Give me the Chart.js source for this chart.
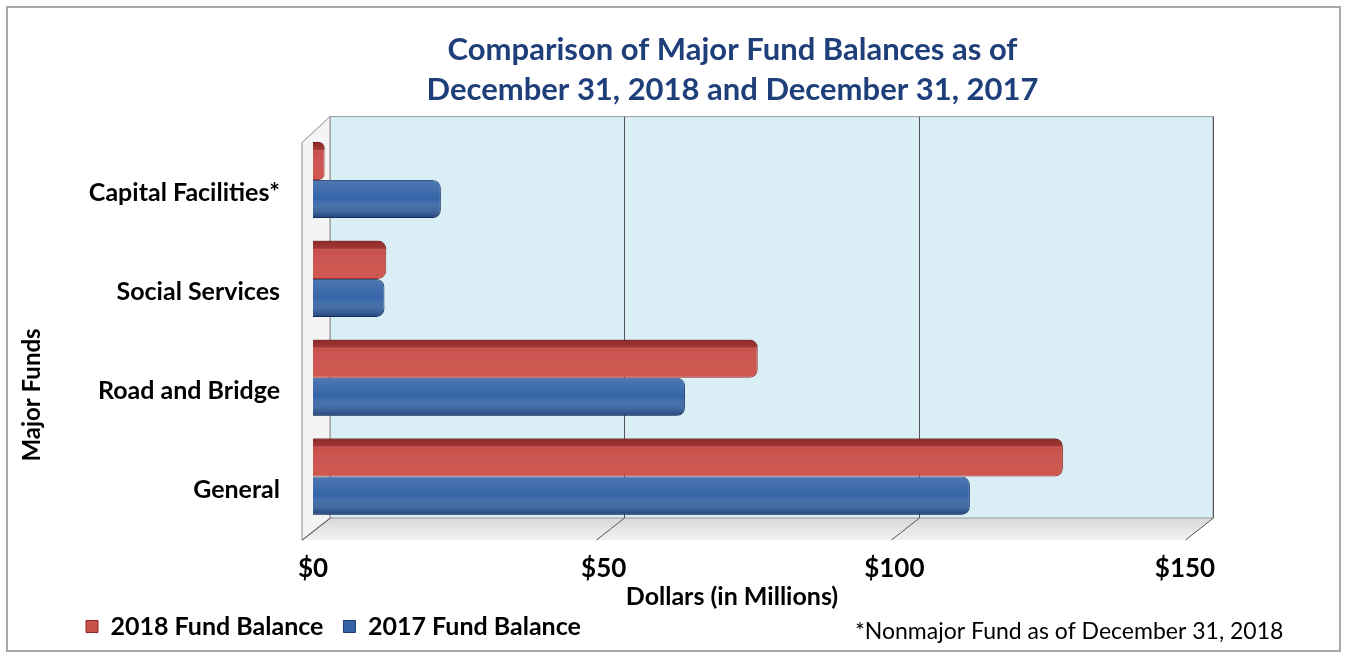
<!DOCTYPE html>
<html>
<head>
<meta charset="utf-8">
<script src="https://cdn.jsdelivr.net/npm/chart.js@4"></script>
<style>
  html, body { margin: 0; padding: 0; background: #fff; }
  #wrap { position: relative; width: 1348px; height: 658px; }
</style>
</head>
<body>
<div id="wrap"><canvas id="fundChart" width="1348" height="658"></canvas></div>
<script>
const funds = ['Capital Facilities*', 'Social Services', 'Road and Bridge', 'General'];
const balance2018 = [2, 12.6, 76.5, 129];
const balance2017 = [22, 12.3, 64, 113];
const dollarTicks = [0, 50, 100, 150];

const FONT = 'Lato, "Open Sans", sans-serif';

// back wall, floor and side wall of the 3-D plot box
const boxPlugin = {
    id: 'box3d',
    beforeDraw(chart) {
        const ctx = chart.ctx;
        ctx.save();
        ctx.fillStyle = '#fff';
        ctx.fillRect(0, 0, chart.width, chart.height);
        ctx.strokeStyle = '#a8a8a8';
        ctx.lineWidth = 2;
        ctx.strokeRect(7, 7, 1333, 644);
        ctx.restore();
    },
    beforeDatasetsDraw(chart) {
        const ctx = chart.ctx;
        const ca = chart.chartArea;
        const xs = chart.scales.x;
        const back = v => xs.getPixelForValue(v) + 17 + 11 * v / 150;
        const wallTop = ca.top - 14;
        const floorBack = ca.bottom - 8;
        const floorFront = ca.bottom + 14;
        const dx = 28;
        ctx.save();

        // floor
        const fg = ctx.createLinearGradient(0, floorBack, 0, floorFront);
        fg.addColorStop(0, '#d8d8d8');
        fg.addColorStop(1, '#f2f2f2');
        ctx.fillStyle = fg;
        ctx.beginPath();
        ctx.moveTo(back(0), floorBack);
        ctx.lineTo(back(150), floorBack);
        ctx.lineTo(back(150) - dx, floorFront);
        ctx.lineTo(back(0) - dx, floorFront);
        ctx.closePath();
        ctx.fill();

        // back wall
        ctx.fillStyle = '#d9eef5';
        ctx.fillRect(back(0), wallTop, back(150) - back(0), floorBack - wallTop);
        ctx.strokeStyle = '#9a9a9a';
        ctx.lineWidth = 1;
        ctx.strokeRect(back(0), wallTop, back(150) - back(0), floorBack - wallTop);

        // side wall
        ctx.fillStyle = '#f4f4f4';
        ctx.beginPath();
        ctx.moveTo(back(0) - dx, wallTop + 26);
        ctx.lineTo(back(0), wallTop);
        ctx.lineTo(back(0), floorBack);
        ctx.lineTo(back(0) - dx, floorFront);
        ctx.closePath();
        ctx.fill();
        ctx.strokeStyle = '#8a8a8a';
        ctx.stroke();

        // grid lines on the back wall and their floor marks
        ctx.strokeStyle = '#555';
        ctx.lineWidth = 1;
        xs.ticks.forEach(t => {
            const bx = Math.round(back(t.value)) + 0.5;
            ctx.beginPath();
            if (t.value > 0) {
                ctx.moveTo(bx, wallTop);
                ctx.lineTo(bx, floorBack);
            }
            ctx.moveTo(bx, floorBack);
            ctx.lineTo(bx - dx, floorFront);
            ctx.stroke();
        });
        ctx.restore();
    },
    afterDatasetsDraw(chart) {
        // shading over each bar for the rounded 3-D look
        const ctx = chart.ctx;
        chart.data.datasets.forEach((ds, di) => {
            chart.getDatasetMeta(di).data.forEach(bar => {
                const p = bar.getProps(['x', 'y', 'base', 'height']);
                const top = p.y - p.height / 2;
                const w = p.x - p.base;
                if (w <= 0) return;
                const r = Math.min(8, w / 2, p.height / 2);
                const g = ctx.createLinearGradient(0, top, 0, top + p.height);
                if (di === 0) {
                    g.addColorStop(0, 'rgba(90,10,10,0.55)');
                    g.addColorStop(0.2, 'rgba(90,10,10,0.35)');
                    g.addColorStop(0.24, 'rgba(255,255,255,0)');
                    g.addColorStop(1, 'rgba(255,120,100,0.15)');
                } else {
                    g.addColorStop(0, 'rgba(255,255,255,0.12)');
                    g.addColorStop(0.5, 'rgba(255,255,255,0)');
                    g.addColorStop(1, 'rgba(0,20,60,0.45)');
                }
                ctx.save();
                ctx.fillStyle = g;
                ctx.beginPath();
                ctx.roundRect(p.base, top, w, p.height, [0, r, r, 0]);
                ctx.fill();
                ctx.restore();
            });
        });
    },
    afterDraw(chart) {
        const ctx = chart.ctx;
        ctx.save();
        ctx.fillStyle = '#000';
        ctx.textAlign = 'center';
        ctx.textBaseline = 'middle';
        ctx.font = 'bold 25px ' + FONT;
        ctx.fillText('Dollars (in Millions)', 732, 597);

        ctx.font = 'bold 24px ' + FONT;
        ctx.translate(32, 395);
        ctx.rotate(-Math.PI / 2);
        ctx.fillText('Major Funds', 0, 0);
        ctx.restore();

        ctx.save();
        ctx.fillStyle = '#000';
        ctx.font = '23px ' + FONT;
        ctx.textAlign = 'left';
        ctx.textBaseline = 'middle';
        ctx.fillText('*Nonmajor Fund as of December 31, 2018', 855, 632);
        ctx.restore();
    },
    afterLayout(chart) {
        chart.legend.left += 54;
        chart.legend.right += 54;
        chart.titleBlock.left += 134;
        chart.titleBlock.right += 134;
    }
};

new Chart(document.getElementById('fundChart'), {
    type: 'bar',
    data: {
        labels: funds,
        datasets: [{
            label: '2018 Fund Balance',
            data: balance2018,
            backgroundColor: '#c9504b',
            borderColor: '#8f2a28',
            borderWidth: 1,
            borderSkipped: 'start',
            borderRadius: 8
        }, {
            label: '2017 Fund Balance',
            data: balance2017,
            backgroundColor: '#3565a8',
            borderColor: '#1d3d70',
            borderWidth: 1,
            borderSkipped: 'start',
            borderRadius: 8
        }]
    },
    options: {
        indexAxis: 'y',
        responsive: false,
        animation: false,
        layout: { padding: { left: 12, right: 163, top: 0, bottom: 9 } },
        datasets: {
            bar: { categoryPercentage: 0.77, barPercentage: 1.0 }
        },
        plugins: {
            title: {
                display: true,
                text: ['Comparison of Major Fund Balances as of', 'December 31, 2018 and December 31, 2017'],
                color: '#1f3f7a',
                font: { family: FONT, size: 31, weight: 'bold', lineHeight: 1.3 },
                padding: { top: 30, bottom: 20 }
            },
            legend: {
                position: 'bottom',
                align: 'start',
                labels: {
                    color: '#000',
                    font: { family: FONT, size: 25, weight: 'bold' },
                    boxWidth: 12,
                    boxHeight: 12,
                    padding: 20
                }
            },
            tooltip: { enabled: false }
        },
        scales: {
            x: {
                min: 0,
                max: 150,
                afterBuildTicks(scale) {
                    scale.ticks = dollarTicks.map(v => ({ value: v }));
                },
                afterFit(scale) { scale.height = 68; },
                grid: { display: false, drawTicks: false },
                border: { display: false },
                ticks: {
                    color: '#000',
                    font: { family: FONT, size: 26, weight: 'bold' },
                    padding: 27,
                    maxRotation: 0,
                    callback: v => '$' + v
                }
            },
            y: {
                grid: { display: false, drawTicks: false },
                border: { display: false },
                afterFit(scale) { scale.width = 301; },
                ticks: {
                    color: '#000',
                    font: { family: FONT, size: 25, weight: 'bold' },
                    padding: 33,
                    labelOffset: 13
                }
            }
        }
    },
    plugins: [boxPlugin]
});
</script>
</body>
</html>
